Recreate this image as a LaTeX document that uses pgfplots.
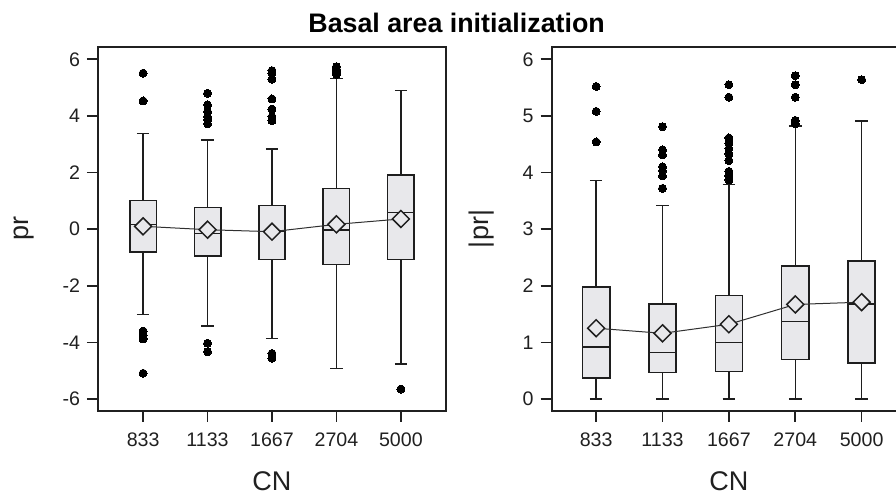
\documentclass[border=0pt]{standalone}
\usepackage{fontspec}
\setmainfont{Liberation Sans}
\usepackage{pgfplots}
\pgfplotsset{compat=1.18}
\usepgfplotslibrary{statistics}
\definecolor{boxfill}{HTML}{E8E8EB}
\definecolor{boxc}{HTML}{1E1E1E}
\definecolor{axisc}{HTML}{202020}
\definecolor{meanc}{HTML}{303030}
\pgfplotsset{
  mypanel/.style={
    scale only axis, clip=false,
    xtick={0,...,4}, xticklabels={833,1133,1667,2704,5000},
    tick align=outside, xtick pos=bottom, ytick pos=left,
    major tick length=5.5pt,
    axis line style={line width=0.8pt, color=axisc},
    tick style={line width=0.8pt, color=axisc},
    ticklabel style={font=\fontsize{9.8}{11}\selectfont, text=axisc},
    xticklabel style={yshift=-2pt},
    /pgf/number format/assume math mode=true,
    label style={font=\fontsize{13.5}{15}\selectfont, text=axisc},
    boxplot/draw direction=y,
    boxplot/box extend=0.41,
    boxplot/whisker extend=0.19,
  },
  boxst/.style={solid, draw=boxc, line width=0.75pt, fill=boxfill,
    mark=*, mark size=2pt, mark options={fill=black, draw=black, line width=0pt}},
  meanst/.style={draw=meanc, line width=0.5pt, mark=square*, mark size=3pt,
    mark options={rotate=45, fill=boxfill, draw=boxc, line width=0.75pt}},
}
\begin{document}
\begin{tikzpicture}
% ---------------- left panel: pr ----------------
\begin{axis}[mypanel, at={(49pt,43.5pt)}, anchor=south west,
  width=174pt, height=182pt,
  xmin=-0.7, xmax=4.7, ymin=-6.424, ymax=6.435,
  ytick={-6,-4,-2,0,2,4,6},
  xlabel={CN}, ylabel={pr},
  xlabel style={at={(axis description cs:0.5,-0.1923)}, anchor=center},
  ylabel style={at={(axis description cs:-0.2126,0.5)}, anchor=center},
]
\addplot[boxst, boxplot prepared={draw position=0, lower whisker=-3.02, lower quartile=-0.81, median=0.17, upper quartile=1.01, upper whisker=3.37}]
  table[row sep=\\, y index=0] {data\\ 5.51\\ 4.53\\ -3.60\\ -3.74\\ -3.88\\ -5.09\\};
\addplot[boxst, boxplot prepared={draw position=1, lower whisker=-3.42, lower quartile=-0.95, median=-0.15, upper quartile=0.76, upper whisker=3.15}]
  table[row sep=\\, y index=0] {data\\ 4.80\\ 4.39\\ 4.15\\ 3.97\\ 3.86\\ 3.72\\ -4.03\\ -4.33\\};
\addplot[boxst, boxplot prepared={draw position=2, lower whisker=-3.86, lower quartile=-1.07, median=-0.09, upper quartile=0.83, upper whisker=2.83}]
  table[row sep=\\, y index=0] {data\\ 5.60\\ 5.50\\ 5.29\\ 4.60\\ 4.24\\ 3.97\\ 3.83\\ -4.39\\ -4.56\\};
\addplot[boxst, boxplot prepared={draw position=3, lower whisker=-4.92, lower quartile=-1.25, median=-0.03, upper quartile=1.43, upper whisker=5.33}]
  table[row sep=\\, y index=0] {data\\ 5.74\\ 5.65\\ 5.55\\ 5.46\\};
\addplot[boxst, boxplot prepared={draw position=4, lower whisker=-4.76, lower quartile=-1.07, median=0.58, upper quartile=1.91, upper whisker=4.89}]
  table[row sep=\\, y index=0] {data\\ -5.65\\};
\addplot[meanst] coordinates {(0,0.10) (1,-0.02) (2,-0.09) (3,0.17) (4,0.36)};
\end{axis}
% ---------------- right panel: |pr| ----------------
\begin{axis}[mypanel, at={(275.85pt,43.5pt)}, anchor=south west,
  width=177.2pt, height=182pt,
  xmin=-0.67, xmax=4.67, ymin=-0.212, ymax=6.217,
  ytick={0,1,2,3,4,5,6},
  xlabel={CN}, ylabel={|pr|},
  xlabel style={at={(axis description cs:0.5,-0.1923)}, anchor=center},
  ylabel style={at={(axis description cs:-0.1967,0.5)}, anchor=center},
]
\addplot[boxst, boxplot prepared={draw position=0, lower whisker=0, lower quartile=0.37, median=0.92, upper quartile=1.98, upper whisker=3.86}]
  table[row sep=\\, y index=0] {data\\ 5.52\\ 5.08\\ 4.54\\};
\addplot[boxst, boxplot prepared={draw position=1, lower whisker=0, lower quartile=0.47, median=0.82, upper quartile=1.68, upper whisker=3.42}]
  table[row sep=\\, y index=0] {data\\ 4.81\\ 4.40\\ 4.31\\ 4.10\\ 4.03\\ 3.94\\ 3.72\\};
\addplot[boxst, boxplot prepared={draw position=2, lower whisker=0, lower quartile=0.49, median=1.00, upper quartile=1.83, upper whisker=3.79}]
  table[row sep=\\, y index=0] {data\\ 5.55\\ 5.33\\ 4.61\\ 4.52\\ 4.42\\ 4.33\\ 4.21\\ 4.02\\ 3.94\\ 3.87\\};
\addplot[boxst, boxplot prepared={draw position=3, lower whisker=0, lower quartile=0.70, median=1.37, upper quartile=2.35, upper whisker=4.82}]
  table[row sep=\\, y index=0] {data\\ 5.71\\ 5.55\\ 5.33\\ 4.92\\ 4.86\\};
\addplot[boxst, boxplot prepared={draw position=4, lower whisker=0, lower quartile=0.64, median=1.68, upper quartile=2.44, upper whisker=4.91}]
  table[row sep=\\, y index=0] {data\\ 5.64\\};
\addplot[meanst] coordinates {(0,1.25) (1,1.16) (2,1.32) (3,1.67) (4,1.71)};
\end{axis}
\node[font=\bfseries\fontsize{13.4}{15}\selectfont, text=black, anchor=center] at (228.3pt,237.75pt) {Basal area initialization};
\pgfresetboundingbox
\useasboundingbox (0,0) rectangle (448pt,249pt);
\end{tikzpicture}
\end{document}
